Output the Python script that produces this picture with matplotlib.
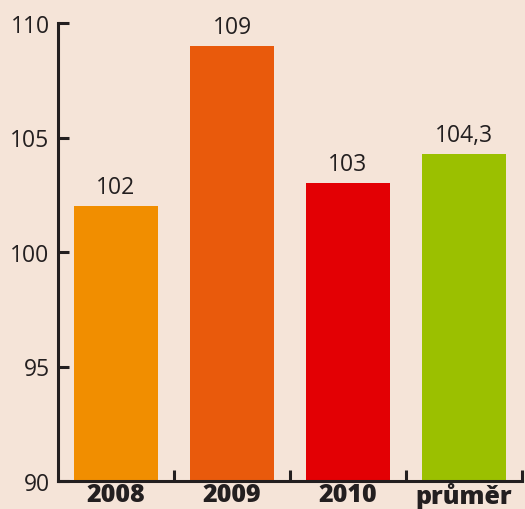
import matplotlib.pyplot as plt

categories = ["2008", "2009", "2010", "průměr"]
values = [102, 109, 103, 104.3]
value_labels = ["102", "109", "103", "104,3"]
colors = ["#f18e00", "#e95a0c", "#e30004", "#9bc000"]
yticks = [90, 95, 100, 105, 110]

bg = "#f5e4d8"
ink = "#231f20"

plt.rcParams['font.family'] = ['Open Sans', 'DejaVu Sans']

fig = plt.figure(figsize=(5.25, 5.1), dpi=100, facecolor=bg)
ax = fig.add_axes([58 / 525, 28 / 510, 464 / 525, 458 / 510])
ax.set_facecolor(bg)

x = range(len(categories))
ax.bar(x, [v - 90 for v in values], bottom=90, width=0.724, color=colors, zorder=2)
for xi, v, lab in zip(x, values, value_labels):
    ax.text(xi, v + 0.3, lab, ha="center", va="bottom", fontsize=16.5, color=ink)

ax.set_xlim(-0.5, 3.5)
ax.set_ylim(90, 110)
ax.set_yticks(yticks)
ax.set_yticklabels([str(t) for t in yticks])
ax.set_xticks(x)
ax.set_xticklabels(categories, fontweight=800, fontsize=18)

ax.set_xticks([0.5, 1.5, 2.5, 3.5], minor=True)
ax.tick_params(axis="x", which="major", length=0, pad=1, colors=ink)
ax.tick_params(axis="x", which="minor", direction="in", length=8, width=2.2, color=ink)
ax.tick_params(axis="y", direction="in", length=8, width=2.2, color=ink,
               labelsize=16.5, labelcolor=ink, pad=6)

for side in ["top", "right"]:
    ax.spines[side].set_visible(False)
for side in ["left", "bottom"]:
    ax.spines[side].set_linewidth(2.2)
    ax.spines[side].set_color(ink)
    ax.spines[side].set_zorder(3)

fig.savefig("out.png", dpi=100, facecolor=bg)
